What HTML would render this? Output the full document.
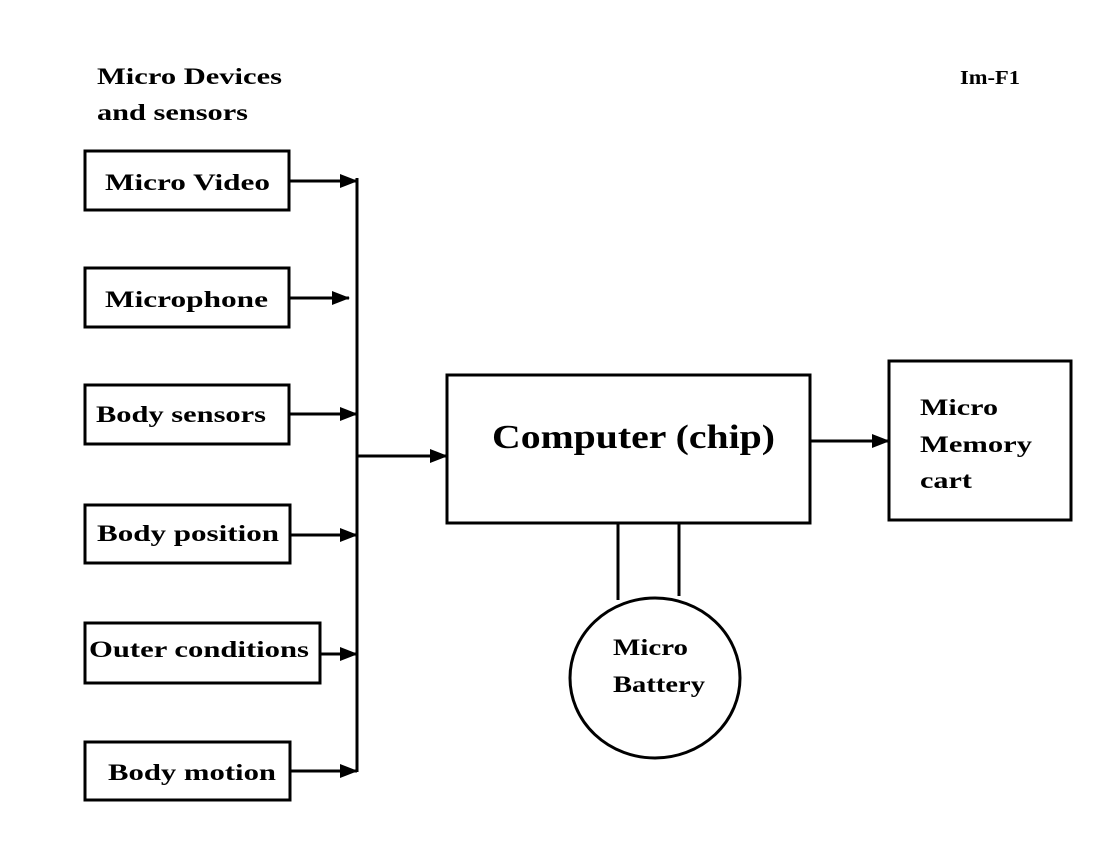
<!DOCTYPE html>
<html><head><style>
body{margin:0;background:#fff}
svg text{font-family:"Liberation Serif",serif;font-weight:bold;fill:#000}
</style></head><body>
<svg width="1115" height="844" viewBox="0 0 1115 844" xmlns="http://www.w3.org/2000/svg">
<defs>
<marker id="b" markerWidth="18" markerHeight="14" refX="17" refY="7" orient="auto" markerUnits="userSpaceOnUse"><path d="M0,0 L18,7 L0,14 z" fill="#000"/></marker></defs>
<g font-size="23" lengthAdjust="spacingAndGlyphs">
<text x="97" y="84" textLength="185" lengthAdjust="spacingAndGlyphs">Micro Devices</text>
<text x="97" y="120" textLength="151" lengthAdjust="spacingAndGlyphs">and sensors</text>
<text x="960" y="84" font-size="20" textLength="60" lengthAdjust="spacingAndGlyphs">Im-F1</text>
</g>
<g fill="none" stroke="#000" stroke-width="3">
<rect x="85" y="151" width="204" height="59"/>
<rect x="85" y="268" width="204" height="59"/>
<rect x="85" y="385" width="204" height="59"/>
<rect x="85" y="505" width="205" height="58"/>
<rect x="85" y="623" width="235" height="60"/>
<rect x="85" y="742" width="205" height="58"/>
<line x1="357" y1="178" x2="357" y2="772"/>
<rect x="447" y="375" width="363" height="148"/>
<rect x="889" y="361" width="182" height="159"/>
<ellipse cx="655" cy="678" rx="85" ry="80"/>
<line x1="618" y1="523" x2="618" y2="600"/>
<line x1="679" y1="523" x2="679" y2="596"/>
</g>
<g stroke="#000" stroke-width="3" marker-end="url(#b)">
<line x1="289" y1="181" x2="357" y2="181"/>
<line x1="289" y1="298" x2="349" y2="298"/>
<line x1="289" y1="414" x2="357" y2="414"/>
<line x1="290" y1="535" x2="357" y2="535"/>
<line x1="320" y1="654" x2="357" y2="654"/>
<line x1="290" y1="771" x2="357" y2="771"/>
<line x1="357" y1="456" x2="447" y2="456"/>
<line x1="810" y1="441" x2="889" y2="441"/>
</g>
<g font-size="23">
<text x="105" y="190" textLength="165" lengthAdjust="spacingAndGlyphs">Micro Video</text>
<text x="105" y="307" textLength="163" lengthAdjust="spacingAndGlyphs">Microphone</text>
<text x="96" y="422" textLength="170" lengthAdjust="spacingAndGlyphs">Body sensors</text>
<text x="97" y="541" textLength="182" lengthAdjust="spacingAndGlyphs">Body position</text>
<text x="89" y="657" textLength="220" lengthAdjust="spacingAndGlyphs">Outer conditions</text>
<text x="108" y="780" textLength="168" lengthAdjust="spacingAndGlyphs">Body motion</text>
<text x="492" y="448" font-size="34" textLength="283" lengthAdjust="spacingAndGlyphs">Computer (chip)</text>
<text x="920" y="415" textLength="78" lengthAdjust="spacingAndGlyphs">Micro</text>
<text x="920" y="452" textLength="112" lengthAdjust="spacingAndGlyphs">Memory</text>
<text x="920" y="488" textLength="52" lengthAdjust="spacingAndGlyphs">cart</text>
<text x="613" y="655" textLength="75" lengthAdjust="spacingAndGlyphs">Micro</text>
<text x="613" y="692" textLength="92" lengthAdjust="spacingAndGlyphs">Battery</text>
</g>
</svg>
</body></html>
